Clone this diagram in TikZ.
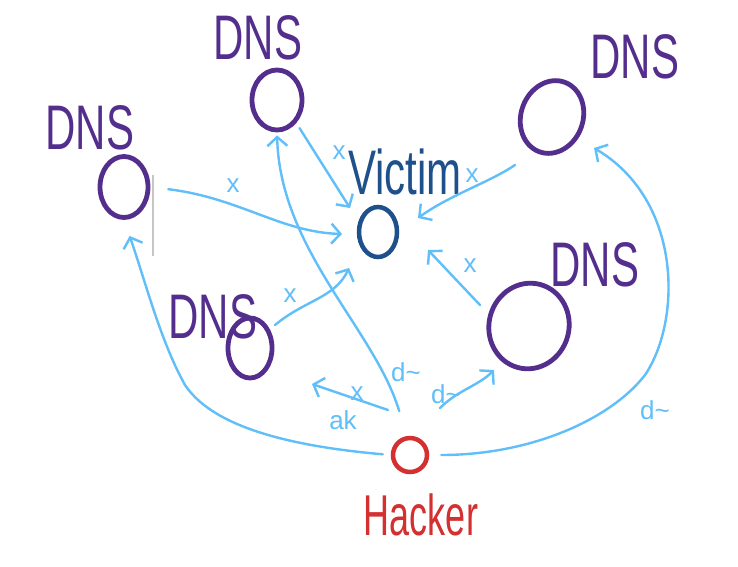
\documentclass[tikz,border=0pt]{standalone}
\usepackage{fontspec}
\setmainfont{Liberation Sans}
\usetikzlibrary{shapes.geometric,arrows.meta}
\definecolor{dnspurple}{RGB}{84,46,140}
\definecolor{vicblue}{RGB}{30,80,140}
\definecolor{hackred}{RGB}{212,48,48}
\definecolor{linkblue}{RGB}{96,190,248}
\newcommand{\tallbox}[2]{\scalebox{1}[#1]{#2}}
\begin{document}
\begin{tikzpicture}[x=1pt,y=-1pt,
  dnsnode/.style={ellipse, draw=dnspurple, line width=4.8pt, inner sep=0pt},
  biglabel/.style={font=\fontsize{42}{46}\selectfont, inner sep=0pt},
  conn/.style={draw=linkblue, line width=2.4pt, line cap=round, line join=round,
    -{Straight Barb[length=9pt,width=20pt]}},
  marktext/.style={text=linkblue, font=\fontsize{26}{28}\selectfont, inner sep=0pt}]
\useasboundingbox[fill=white] (0,0) rectangle (738,566);

% nodes
\node[dnsnode, minimum width=48pt, minimum height=61pt] (d1) at (124,187) {};
\node[dnsnode, minimum width=50pt, minimum height=60pt] (d2) at (277,100) {};
\node[dnsnode, minimum width=62pt, minimum height=74pt, rotate=-20] (d3) at (552,117) {};
\node[dnsnode, minimum width=44pt, minimum height=60pt] (d4) at (250,348) {};
\node[dnsnode, minimum width=80pt, minimum height=86pt, rotate=-15] (d5) at (529,326) {};
\node[ellipse, draw=vicblue, line width=4.5pt, minimum width=38pt, minimum height=50pt, inner sep=0pt] (v) at (378,232) {};
\node[circle, draw=hackred, line width=4.5pt, minimum size=34pt, inner sep=0pt] (hk) at (410,455) {};

% labels
\node[biglabel, text=dnspurple] (l1) at (90,128) {\tallbox{1.5}{DNS}};
\node[biglabel, text=dnspurple] (l2) at (258,38) {\tallbox{1.5}{DNS}};
\node[biglabel, text=dnspurple] (l3) at (635,57) {\tallbox{1.5}{DNS}};
\node[biglabel, text=dnspurple] (l4) at (213,317) {\tallbox{1.5}{DNS}};
\node[biglabel, text=dnspurple] (l5) at (595,265) {\tallbox{1.5}{DNS}};
\node[biglabel, text=vicblue] (lv) at (405,172) {\tallbox{1.5}{Victim}};
\node[font=\fontsize{36}{40}\selectfont, inner sep=0pt, text=hackred] (lh) at (421,515) {\tallbox{1.6}{Hacker}};

% cursor line
\coordinate (c1) at (153,175);
\coordinate (c2) at (153,256);
\draw[gray!45, line width=1.5pt] (c1) -- (c2);

% hacker -> DNS
\draw[conn, shorten <=8pt, shorten >=17pt] (hk.west) .. controls (300,447) and (215,430) .. (185,385)
   .. controls (160,340) and (145,280) .. (d1.south);
\draw[conn, shorten <=26pt, shorten >=3pt] (hk.100) .. controls (375,330) and (280,250) .. (d2.south);
\coordinate (h4s) at (388,410);
\coordinate (h4e) at (312,384);
\draw[conn] (h4s) -- (h4e);
\coordinate (h5s) at (440,408);
\coordinate (h5e) at (494,370);
\draw[conn] (h5s) .. controls (458,390) and (478,386) .. (h5e);
\coordinate (h3e) at (594,148);
\draw[conn, shorten <=12pt] (hk.east) .. controls (530,455) and (610,420) .. (645,375)
   .. controls (682,320) and (682,200) .. (h3e);

% DNS -> victim
\coordinate (v1e) at (342,234);
\draw[conn, shorten <=18pt] (d1.east) .. controls (240,198) and (280,232) .. (v1e);
\coordinate (v2e) at (350,208);
\draw[conn, shorten <=6pt] (d2.-50) -- (v2e);
\coordinate (v3s) at (515,165);
\coordinate (v3e) at (418,218);
\draw[conn] (v3s) .. controls (490,182) and (450,195) .. (v3e);
\coordinate (v4s) at (275,325);
\coordinate (v4e) at (349,268);
\draw[conn] (v4s) .. controls (305,300) and (335,298) .. (v4e);
\coordinate (v5s) at (480,305);
\coordinate (v5e) at (428,250);
\draw[conn] (v5s) -- (v5e);

% small marks
\node[marktext] (m1) at (233,186) {x};
\node[marktext] (m2) at (339,153) {x};
\node[marktext] (m3) at (472,176) {x};
\node[marktext] (m4) at (290,296) {x};
\node[marktext] (m5) at (470,266) {x};
\node[marktext] (m6) at (357,394) {x};
\node[marktext] (m7) at (343,420) {ak};
\node[marktext] (m8) at (406,372) {d\string~};
\node[marktext] (m9) at (446,394) {d\string~};
\node[marktext] (m10) at (655,410) {d\string~};
\end{tikzpicture}
\end{document}
